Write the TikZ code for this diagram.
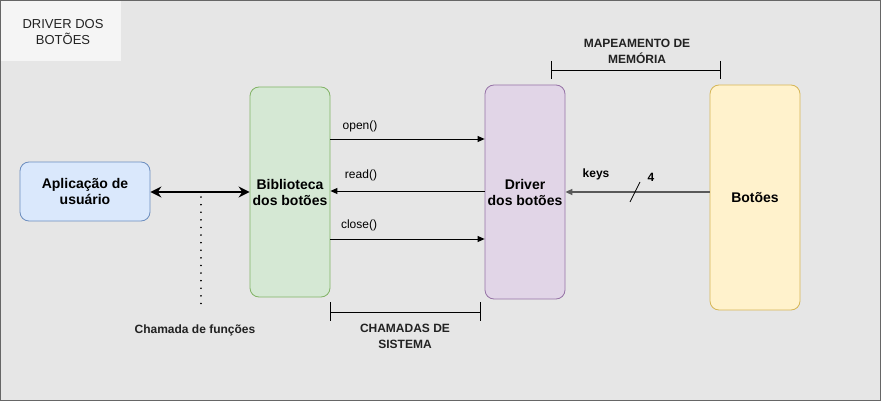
\documentclass[tikz,border=0pt]{standalone}
\usepackage{fontspec}
\setmainfont{Liberation Sans}
\usetikzlibrary{arrows.meta}
\definecolor{bgc}{HTML}{E6E6E6}
\definecolor{bordc}{HTML}{666666}
\definecolor{titlec}{HTML}{F5F5F5}
\definecolor{txtc}{HTML}{222222}
\definecolor{bluef}{HTML}{DAE8FC}\definecolor{blued}{HTML}{6C8EBF}
\definecolor{greenf}{HTML}{D5E8D4}\definecolor{greend}{HTML}{82B366}
\definecolor{purplef}{HTML}{E1D5E7}\definecolor{purpled}{HTML}{9673A6}
\definecolor{yellowf}{HTML}{FFF2CC}\definecolor{yellowd}{HTML}{D6B656}
\begin{document}
\begin{tikzpicture}[x=1pt,y=-1pt,
  box/.style={rounded corners=9pt,line width=0.8pt,font=\bfseries\fontsize{14}{16}\selectfont,align=center,inner sep=0pt},
  lbl/.style={font=\fontsize{12}{14}\selectfont,inner sep=0pt},
  blbl/.style={font=\bfseries\fontsize{12}{16}\selectfont,align=center,text=txtc,inner sep=0pt},
  conn/.style={line width=0.9pt,-{Triangle[length=7pt,width=6pt]}},
  brk/.style={line width=0.9pt}]
\useasboundingbox (0,0) rectangle (881,401);
\fill[bgc,draw=bordc,line width=0.8pt] (0.5,0.5) rectangle (880.5,400.5);
\fill[titlec] (1,1) rectangle (121,61);
\node[font=\fontsize{13}{16}\selectfont,text=txtc,align=center] (title) at (63,32) {DRIVER DOS\\BOTÕES};
% nodes
\node[box,fill=bluef,draw=blued,minimum width=130pt,minimum height=59pt] (app) at (85,191.5) {Aplicação de\\usuário};
\node[box,fill=greenf,draw=greend,minimum width=80pt,minimum height=210pt] (lib) at (290,192) {Biblioteca\\dos botões};
\node[box,fill=purplef,draw=purpled,minimum width=80pt,minimum height=214pt] (drv) at (525,192) {Driver\\dos botões};
\node[box,fill=yellowf,draw=yellowd,minimum width=90pt,minimum height=225pt] (bot) at (755,197.5) {Botões};
% double arrow
\draw[line width=2.6pt,{Stealth[length=11pt,width=11pt]}-{Stealth[length=11pt,width=11pt]}] (app.east |- 0,192) -- (lib.west |- 0,192);
\coordinate (dt) at (201,197);
\coordinate (db) at (201,310);
\draw[line width=1.6pt,dash pattern=on 0.1pt off 7.5pt,line cap=round] (dt) -- (db);
\node[blbl,font=\bfseries\fontsize{12}{14}\selectfont] (cf) at (195,330) {Chamada de funções};
% calls
\draw[conn] (lib.east |- 0,139) -- (drv.west |- 0,139);
\node[lbl] (open) at (360,126) {open()};
\draw[conn] (drv.west |- 0,191) -- (lib.east |- 0,191);
\node[lbl] (read) at (361,175) {read()};
\draw[conn] (lib.east |- 0,239) -- (drv.west |- 0,239);
\node[lbl] (close) at (359,225) {close()};
% keys
\draw[conn,draw=black!65,line width=1.3pt] (bot.west |- 0,192) -- (drv.east |- 0,192);
\node[lbl,font=\bfseries\fontsize{12}{14}\selectfont] (keys) at (596,174) {keys};
\node[lbl,font=\bfseries\fontsize{12}{14}\selectfont] (four) at (651,177) {4};
\coordinate (s1) at (630,202);
\coordinate (s2) at (640,182);
\draw[line width=0.8pt] (s1) -- (s2);
% brackets
\coordinate (m1) at (551,70); \coordinate (m2) at (720,70);
\draw[brk] (m1) -- (m2) (551,61) -- (551,79) (720,61) -- (720,79);
\node[blbl] (mem) at (637,51) {MAPEAMENTO DE\\MEMÓRIA};
\coordinate (c1) at (330,312); \coordinate (c2) at (480,312);
\draw[brk] (c1) -- (c2) (330,302) -- (330,321) (480,302) -- (480,321);
\node[blbl] (cs) at (405,336) {CHAMADAS DE\\SISTEMA};
\end{tikzpicture}
\end{document}
